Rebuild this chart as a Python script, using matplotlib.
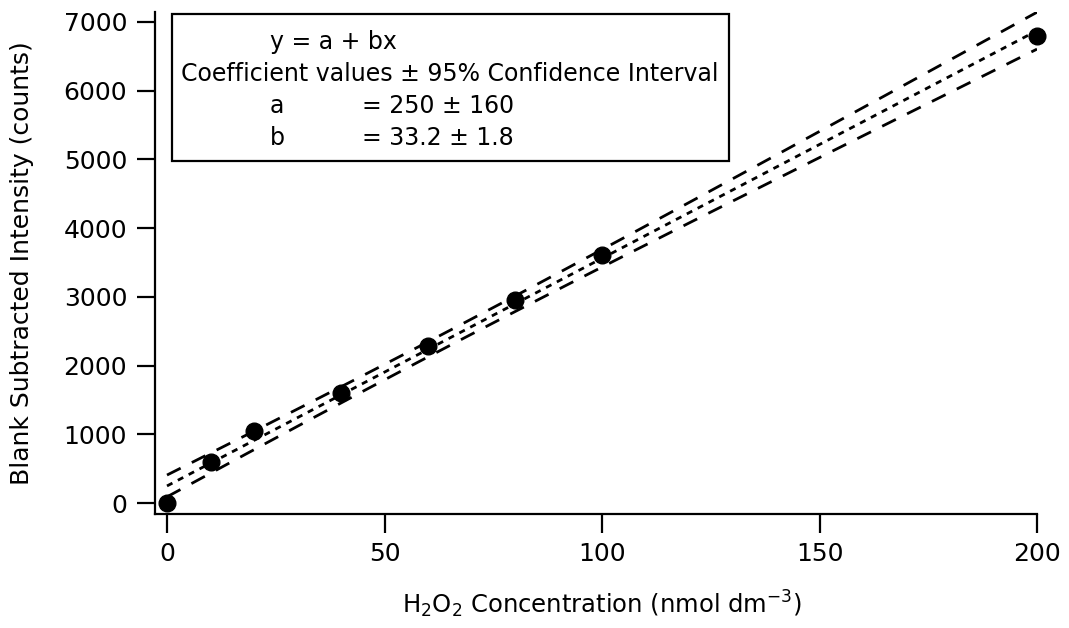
import numpy as np
import matplotlib
matplotlib.use("Agg")
import matplotlib.pyplot as plt
from matplotlib.patches import Rectangle

# Data
conc = [0, 10, 20, 40, 60, 80, 100, 200]
intensity = [0, 590, 1045, 1600, 2290, 2950, 3615, 6790]
x_ticks = [0, 50, 100, 150, 200]
y_ticks = [0, 1000, 2000, 3000, 4000, 5000, 6000, 7000]
t_975_df6 = 2.447

legend_lines = ["y = a + bx", "Coefficient values \u00b1 95% Confidence Interval"]
coef_names = ["a", "b"]
coef_texts = ["= 250 \u00b1 160", "= 33.2 \u00b1 1.8"]

plt.rcParams['font.family'] = ['DejaVu Sans']
plt.rcParams['mathtext.default'] = 'regular'

W, H = 1069, 628
fig = plt.figure(figsize=(W / 100, H / 100), dpi=100)
ax = fig.add_axes([155 / W, 1 - 514 / H, (1037 - 155) / W, (514 - 12) / H])

x = np.array(conc, float)
y = np.array(intensity, float)
n = len(x)
b, a = np.polyfit(x, y, 1)
res = y - (a + b * x)
s = np.sqrt(np.sum(res ** 2) / (n - 2))
xbar = x.mean()
sxx = np.sum((x - xbar) ** 2)
xf = np.linspace(0, 200, 200)
yf = a + b * xf
hw = t_975_df6 * s * np.sqrt(1 / n + (xf - xbar) ** 2 / sxx)

ax.plot(xf, yf, color='black', lw=2.0, dashes=(2.2, 2.2))
ax.plot(xf, yf + hw, color='black', lw=2.0, dashes=(5.5, 4.5))
ax.plot(xf, yf - hw, color='black', lw=2.0, dashes=(5.5, 4.5))
ax.plot(x, y, 'o', color='black', ms=12, clip_on=False, zorder=5)

ax.set_xlim(-2.76, 200)
ax.set_ylim(-160, 7145)
ax.set_xticks(x_ticks)
ax.set_yticks(y_ticks)
for sp in ['top', 'right']:
    ax.spines[sp].set_visible(False)
for sp in ['left', 'bottom']:
    ax.spines[sp].set_linewidth(1.6)
ax.tick_params(axis='x', direction='out', length=14, width=1.6, labelsize=18, pad=6)
ax.tick_params(axis='y', direction='out', length=13, width=1.6, labelsize=18, pad=7)

fig.text(22 / W, 1 - 263 / H, "Blank Subtracted Intensity (counts)", rotation=90,
         ha='center', va='center', fontsize=18)
fig.text(602 / W, 1 - 604 / H, r"H$_2$O$_2$ Concentration (nmol dm$^{-3}$)",
         ha='center', va='center', fontsize=17.5)

# legend box
fig.patches.append(Rectangle((172 / W, 1 - 161 / H), (729 - 172) / W, (161 - 14) / H,
                             transform=fig.transFigure, fill=False, ec='black', lw=1.6))
fig.text(270 / W, 1 - 42 / H, legend_lines[0], ha='left', va='center', fontsize=17)
fig.text(450 / W, 1 - 74 / H, legend_lines[1], ha='center', va='center', fontsize=17)
for i, (nm, tx) in enumerate(zip(coef_names, coef_texts)):
    yy = 1 - (106 + 32 * i) / H
    fig.text(270 / W, yy, nm, ha='left', va='center', fontsize=17)
    fig.text(362 / W, yy, tx, ha='left', va='center', fontsize=17)

fig.savefig("out.png", dpi=100)
